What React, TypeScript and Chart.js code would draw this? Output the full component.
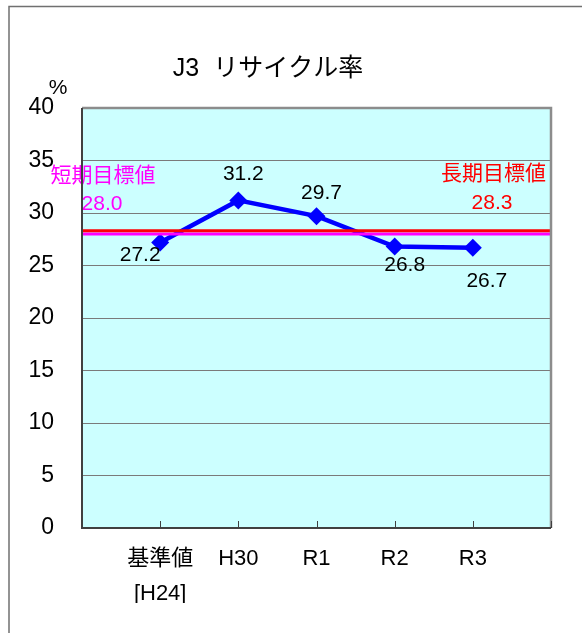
import React, { useEffect, useRef } from "react";
import { Chart, registerables } from "chart.js";

Chart.register(...registerables);

const TITLE = "J3  リサイクル率";
const UNIT = "%";
const categories: (string | string[])[] = ["", ["基準値", "[H24]"], "H30", "R1", "R2", "R3", ""];
const recycleRate: (number | null)[] = [null, 27.2, 31.2, 29.7, 26.8, 26.7, null];
const shortTermTarget = 28.0;
const longTermTarget = 28.3;
const shortTermLabel = "短期目標値";
const longTermLabel = "長期目標値";
const yTicks = [0, 5, 10, 15, 20, 25, 30, 35, 40];

// label offsets (style only)
const labelOffsets: [number, number][] = [
  [0, 0],
  [-20, 13],
  [5, -26],
  [5, -23],
  [10, 19],
  [14, 34],
  [0, 0],
];

const FONT = "'Liberation Sans', Arial, 'Noto Sans CJK JP', sans-serif";

export default function App() {
  const ref = useRef<HTMLCanvasElement | null>(null);

  useEffect(() => {
    if (!ref.current) return;

    const decor = {
      id: "decor",
      beforeDraw(chart: any) {
        const { ctx, chartArea: a } = chart;
        ctx.save();
        ctx.fillStyle = "#ffffff";
        ctx.fillRect(0, 0, chart.width, chart.height);
        // outer frame
        ctx.strokeStyle = "#707070";
        ctx.lineWidth = 1.5;
        ctx.beginPath();
        ctx.moveTo(9, chart.height);
        ctx.lineTo(9, 6.5);
        ctx.lineTo(chart.width, 6.5);
        ctx.stroke();
        // plot background
        ctx.fillStyle = "#CCFFFF";
        ctx.fillRect(a.left, a.top, a.right - a.left, a.bottom - a.top);
        // title
        ctx.fillStyle = "#000";
        ctx.font = `25px ${FONT}`;
        ctx.textAlign = "center";
        ctx.textBaseline = "middle";
        ctx.fillText(TITLE, 268, 69);
        ctx.font = `21px ${FONT}`;
        ctx.fillText(UNIT, 58, 88);
        ctx.restore();
      },
      afterDraw(chart: any) {
        const { ctx, chartArea: a, scales } = chart;
        const x = scales.x;
        ctx.save();
        // plot border
        ctx.strokeStyle = "#8c8c8c";
        ctx.lineWidth = 2.5;
        ctx.beginPath();
        ctx.moveTo(a.left, a.top);
        ctx.lineTo(a.right, a.top);
        ctx.lineTo(a.right, a.bottom);
        ctx.stroke();
        ctx.strokeStyle = "#404040";
        ctx.lineWidth = 2;
        ctx.beginPath();
        ctx.moveTo(a.left, a.top);
        ctx.lineTo(a.left, a.bottom);
        ctx.lineTo(a.right, a.bottom);
        ctx.stroke();
        // inner tick marks on x-axis
        ctx.strokeStyle = "#404040";
        ctx.lineWidth = 1;
        for (let i = 1; i < categories.length; i++) {
          const px = Math.round(x.getPixelForValue(i)) + 0.5;
          ctx.beginPath();
          ctx.moveTo(px, a.bottom);
          ctx.lineTo(px, a.bottom - 7);
          ctx.stroke();
        }
        ctx.restore();
      },
      afterDatasetsDraw(chart: any) {
        const { ctx, chartArea: a, scales } = chart;
        const y = scales.y;
        ctx.save();
        ctx.textBaseline = "middle";
        // data labels
        const meta = chart.getDatasetMeta(2);
        ctx.fillStyle = "#000";
        ctx.font = `21px ${FONT}`;
        ctx.textAlign = "center";
        meta.data.forEach((p: any, i: number) => {
          const v = recycleRate[i];
          if (v == null) return;
          const [dx, dy] = labelOffsets[i];
          ctx.fillText(v.toFixed(1), p.x + dx, p.y + dy);
        });
        // target labels
        const ys = y.getPixelForValue(shortTermTarget);
        const yl = y.getPixelForValue(longTermTarget);
        ctx.fillStyle = "#FF00FF";
        ctx.font = `21px ${FONT}`;
        ctx.textAlign = "center";
        ctx.fillText(shortTermLabel, a.left + 21, ys - 58);
        ctx.font = `21px ${FONT}`;
        ctx.fillText(shortTermTarget.toFixed(1), a.left + 20, ys - 30);
        ctx.fillStyle = "#FF0000";
        ctx.font = `21px ${FONT}`;
        ctx.textAlign = "right";
        ctx.fillText(longTermLabel, a.right - 5, yl - 57);
        ctx.textAlign = "center";
        ctx.font = `21px ${FONT}`;
        ctx.fillText(longTermTarget.toFixed(1), a.right - 59, yl - 28);
        ctx.restore();
      },
    };

    const chart = new Chart(ref.current, {
      type: "line",
      data: {
        labels: categories,
        datasets: [
          {
            label: longTermLabel,
            data: categories.map(() => longTermTarget),
            borderColor: "#FF0000",
            borderWidth: 3,
            pointRadius: 0,
            fill: false,
          },
          {
            label: shortTermLabel,
            data: categories.map(() => shortTermTarget),
            borderColor: "#FF00FF",
            borderWidth: 3,
            pointRadius: 0,
            fill: false,
          },
          {
            label: "リサイクル率",
            data: recycleRate,
            borderColor: "#0000FF",
            backgroundColor: "#0000FF",
            borderWidth: 4.5,
            pointStyle: "rectRot",
            pointRadius: 9,
            pointBackgroundColor: "#0000FF",
            pointBorderColor: "#0000FF",
            pointBorderWidth: 0,
            fill: false,
            spanGaps: false,
          },
        ],
      },
      options: {
        responsive: false,
        animation: false,
        devicePixelRatio: 1,
        layout: { padding: { left: 22, right: 31, top: 108, bottom: 30 } },
        plugins: {
          legend: { display: false },
          title: { display: false },
          tooltip: { enabled: false },
        },
        scales: {
          x: {
            type: "category",
            offset: false,
            grid: { display: false, drawTicks: false },
            border: { display: false },
            ticks: {
              autoSkip: false,
              maxRotation: 0,
              minRotation: 0,
              padding: 13,
              color: "#000",
              font: { family: FONT, size: 22, lineHeight: 1.6 },
            },
            afterFit(scale: any) {
              scale.height = 75;
            },
          },
          y: {
            min: 0,
            max: 40,
            afterBuildTicks(scale: any) {
              scale.ticks = yTicks.map((v) => ({ value: v }));
            },
            grid: { color: "#7a7a7a", lineWidth: 1, drawTicks: false },
            border: { display: false },
            ticks: {
              padding: 28,
              color: "#000",
              font: { family: FONT, size: 23 },
            },
            afterFit(scale: any) {
              scale.width = 60;
            },
          },
        },
      },
      plugins: [decor],
    });

    return () => chart.destroy();
  }, []);

  return (
    <div style={{ position: "absolute", left: 0, top: 0, width: 582, height: 633 }}>
      <canvas ref={ref} width={582} height={633} style={{ display: "block" }} />
    </div>
  );
}
